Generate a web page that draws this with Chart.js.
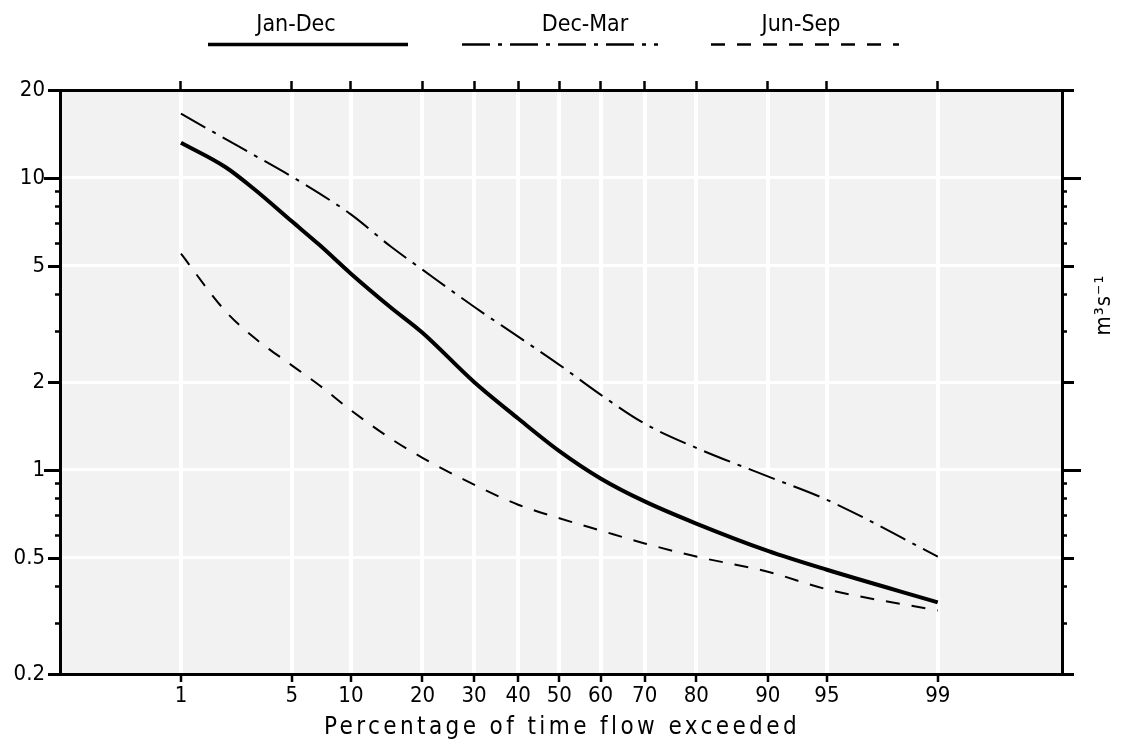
<!DOCTYPE html>
<html><head><meta charset="utf-8">
<script src="https://cdn.jsdelivr.net/npm/chart.js@4.4.0/dist/chart.umd.min.js"></script>
<style>html,body{margin:0;padding:0;background:#fff;overflow:hidden}</style>
</head><body>
<canvas id="c" width="1122" height="749"></canvas>
<script>
// ---------------- data ----------------
const SERIES_NAMES = ['Jan-Dec', 'Dec-Mar', 'Jun-Sep'];
const PCT     = [1, 2, 3, 5, 7, 10, 15, 20, 30, 40, 50, 60, 70, 80, 90, 95, 99];
const JAN_DEC = [13.2, 10.9, 9.2, 7.1, 5.9, 4.7, 3.6, 2.95, 2.0, 1.5, 1.16, 0.935, 0.78, 0.655, 0.528, 0.455, 0.352];
const DEC_MAR = [16.6, 13.6, 12.0, 10.1, 8.85, 7.5, 5.82, 4.85, 3.62, 2.86, 2.29, 1.81, 1.44, 1.19, 0.95, 0.79, 0.505];
const JUN_SEP = [5.5, 3.5, 2.85, 2.28, 1.95, 1.6, 1.28, 1.1, 0.89, 0.76, 0.683, 0.62, 0.56, 0.505, 0.448, 0.39, 0.33];
const X_TICKS = [1, 5, 10, 20, 30, 40, 50, 60, 70, 80, 90, 95, 99];
const Y_TICKS = [0.2, 0.5, 1, 2, 5, 10, 20];
const Y_MINOR = [0.3, 0.4, 0.6, 0.7, 0.8, 0.9, 3, 4, 6, 7, 8, 9];
const Y_LONG  = [1, 10];
const X_TITLE = 'Percentage of time flow exceeded';
const Y_UNIT  = 'm³s⁻¹';

// ---------------- normal probability helpers ----------------
function probit(p) {
  const a=[-3.969683028665376e+01,2.209460984245205e+02,-2.759285104469687e+02,1.383577518672690e+02,-3.066479806614716e+01,2.506628277459239e+00];
  const b=[-5.447609879822406e+01,1.615858368580409e+02,-1.556989798598866e+02,6.680131188771972e+01,-1.328068155288572e+01];
  const c=[-7.784894002430293e-03,-3.223964580411365e-01,-2.400758277161838e+00,-2.549732539343734e+00,4.374664141464968e+00,2.938163982698783e+00];
  const d=[7.784695709041462e-03,3.224671290700398e-01,2.445134137142996e+00,3.754408661907416e+00];
  const pl=0.02425, ph=1-pl; let q, r;
  if (p < pl) { q=Math.sqrt(-2*Math.log(p)); return (((((c[0]*q+c[1])*q+c[2])*q+c[3])*q+c[4])*q+c[5])/((((d[0]*q+d[1])*q+d[2])*q+d[3])*q+1); }
  if (p <= ph) { q=p-0.5; r=q*q; return (((((a[0]*r+a[1])*r+a[2])*r+a[3])*r+a[4])*r+a[5])*q/(((((b[0]*r+b[1])*r+b[2])*r+b[3])*r+b[4])*r+1); }
  q=Math.sqrt(-2*Math.log(1-p)); return -(((((c[0]*q+c[1])*q+c[2])*q+c[3])*q+c[4])*q+c[5])/((((d[0]*q+d[1])*q+d[2])*q+d[3])*q+1);
}
function ncdf(z) {
  const t=1/(1+0.2316419*Math.abs(z)), dd=0.3989423*Math.exp(-z*z/2);
  const p=dd*t*(0.3193815+t*(-0.3565638+t*(1.781478+t*(-1.821256+t*1.330274))));
  return z>0 ? 1-p : p;
}

// ---------------- custom probability scale ----------------
class ProbabilityScale extends Chart.Scale {
  determineDataLimits() { this.min = this.options.min; this.max = this.options.max; }
  buildTicks() { return X_TICKS.map(v => ({ value: v })); }
  getLabelForValue(v) { return String(v); }
  configure() { super.configure(); this._z0 = probit(this.min / 100); this._z1 = probit(this.max / 100); }
  getPixelForValue(v) { return this.getPixelForDecimal((probit(v / 100) - this._z0) / (this._z1 - this._z0)); }
  getValueForPixel(px) { return 100 * ncdf(this._z0 + this.getDecimalForPixel(px) * (this._z1 - this._z0)); }
}
ProbabilityScale.id = 'probability';
ProbabilityScale.defaults = {};
Chart.register(ProbabilityScale);

const FONT = '"Liberation Sans Narrow", "DejaVu Sans Condensed", "Liberation Sans", sans-serif';
const toPts = arr => PCT.map((p, i) => ({ x: p, y: arr[i] }));

// legend layout: [line start, line end, text centre]
const LEGEND_POS = [[208, 408, 296], [462, 658, 585], [711, 899, 801]];

const deco = {
  id: 'deco',
  beforeDraw(chart) {
    const { ctx, chartArea: a } = chart;
    ctx.save();
    ctx.fillStyle = '#fff'; ctx.fillRect(0, 0, chart.width, chart.height);
    ctx.fillStyle = '#f2f2f2'; ctx.fillRect(a.left, a.top, a.right - a.left, a.bottom - a.top);
    ctx.restore();
    ctx.letterSpacing = '0px';
  },
  afterDraw(chart) {
    const { ctx, chartArea: a } = chart;
    const ys = chart.scales.y;
    ctx.save();
    ctx.strokeStyle = '#000'; ctx.lineCap = 'butt';
    Y_TICKS.concat(Y_MINOR).forEach(v => {
      const py = Math.round(ys.getPixelForValue(v)) + 0.5;
      const minor = Y_MINOR.includes(v), long = Y_LONG.includes(v);
      const L = long ? 16 : (minor ? 5 : 12), R = long ? 19 : (minor ? 5 : 12);
      ctx.lineWidth = minor ? 2.5 : 3;
      ctx.beginPath();
      ctx.moveTo(a.left - L, py); ctx.lineTo(a.left, py);
      ctx.moveTo(a.right, py); ctx.lineTo(a.right + R, py);
      ctx.stroke();
    });
    // legend
    ctx.fillStyle = '#000';
    ctx.textAlign = 'center'; ctx.textBaseline = 'middle';
    ctx.font = '23px ' + FONT;
    ctx.letterSpacing = '0px';
    chart.data.datasets.forEach((ds, i) => {
      const [x1, x2, tx] = LEGEND_POS[i];
      ctx.fillText(ds.label, tx, 25);
      ctx.beginPath();
      ctx.setLineDash(ds.borderDash || []);
      ctx.lineWidth = ds.borderWidth === 4 ? 3.5 : 2.5;
      ctx.moveTo(x1, 44.5); ctx.lineTo(x2, 44.5); ctx.stroke();
    });
    ctx.setLineDash([]);
    // x title
    ctx.font = '24px ' + FONT;
    ctx.letterSpacing = '3.4px';
    ctx.fillText(X_TITLE, (a.left + a.right) / 2 + 1, 728);
    // right unit label
    ctx.letterSpacing = '1px';
    ctx.translate(1104, 305); ctx.rotate(-Math.PI / 2);
    ctx.font = '22px ' + FONT;
    ctx.fillText(Y_UNIT, 0, 0);
    ctx.restore();
  }
};

new Chart(document.getElementById('c'), {
  type: 'line',
  data: {
    datasets: [
      { label: SERIES_NAMES[0], data: toPts(JAN_DEC), borderColor: '#000', borderWidth: 4, pointRadius: 0, cubicInterpolationMode: 'monotone', fill: false },
      { label: SERIES_NAMES[1], data: toPts(DEC_MAR), borderColor: '#000', borderWidth: 2, borderDash: [28, 8, 4, 8], pointRadius: 0, cubicInterpolationMode: 'monotone', fill: false },
      { label: SERIES_NAMES[2], data: toPts(JUN_SEP), borderColor: '#000', borderWidth: 2, borderDash: [14, 12], pointRadius: 0, cubicInterpolationMode: 'monotone', fill: false }
    ]
  },
  options: {
    responsive: false, animation: false, devicePixelRatio: 1,
    layout: { padding: 0 },
    plugins: { legend: { display: false }, tooltip: { enabled: false } },
    scales: {
      x: {
        type: 'probability', position: 'bottom', min: 0.107, max: 99.9,
        afterFit: s => { s.height = 75; },
        grid: { color: '#fff', lineWidth: 4, tickColor: '#000', tickWidth: 2.5, tickLength: 8 },
        border: { color: '#000', width: 3 },
        ticks: { autoSkip: false, maxRotation: 0, padding: 1, color: '#000', font: { family: FONT, size: 22 }, callback: v => String(v) }
      },
      x2: {
        type: 'probability', position: 'top', min: 0.107, max: 99.9,
        afterFit: s => { s.height = 90; },
        grid: { drawOnChartArea: false, tickColor: '#000', tickWidth: 2.5, tickLength: 9 },
        border: { color: '#000', width: 3 },
        ticks: { display: false }
      },
      y: {
        type: 'logarithmic', position: 'left', min: 0.2, max: 20,
        afterFit: s => { s.width = 60; },
        afterBuildTicks: s => { s.ticks = Y_TICKS.map(v => ({ value: v })); },
        grid: { color: '#fff', lineWidth: 3, tickColor: 'rgba(0,0,0,0)', tickLength: 12 },
        border: { color: '#000', width: 3 },
        ticks: { padding: 3, color: '#000', font: { family: FONT, size: 22 }, callback: v => String(v) }
      },
      y2: {
        type: 'logarithmic', position: 'right', min: 0.2, max: 20,
        afterFit: s => { s.width = 60; },
        afterBuildTicks: s => { s.ticks = Y_TICKS.map(v => ({ value: v })); },
        grid: { drawOnChartArea: false, drawTicks: false },
        border: { color: '#000', width: 3 },
        ticks: { display: false }
      }
    }
  },
  plugins: [deco]
});
</script>
</body></html>
